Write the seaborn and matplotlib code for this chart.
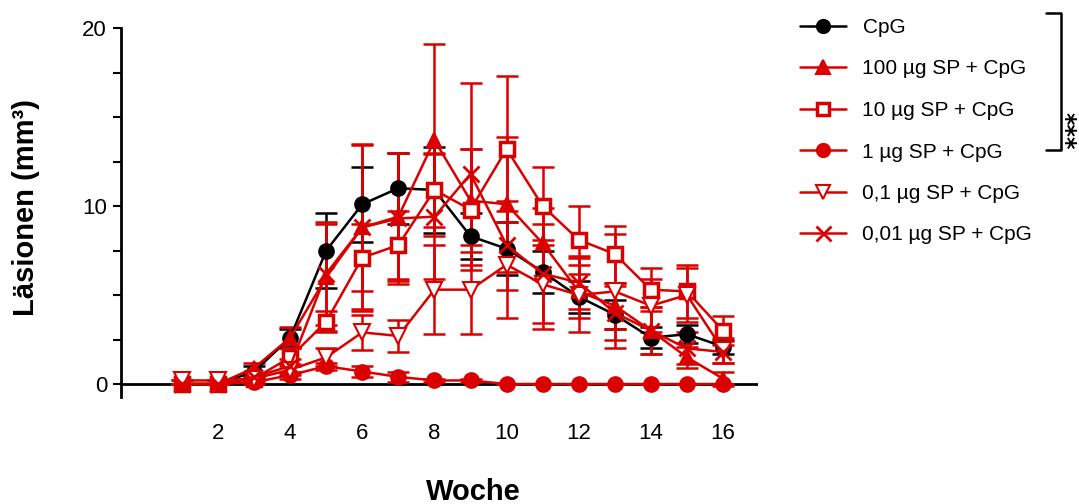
import matplotlib
matplotlib.use("Agg")
import matplotlib.pyplot as plt
import seaborn as sns
from matplotlib.lines import Line2D
from matplotlib.ticker import MultipleLocator

sns.set_style("ticks")
plt.rcParams['font.family'] = ['Liberation Sans', 'DejaVu Sans']
plt.rcParams['text.color'] = 'black'
plt.rcParams['axes.labelcolor'] = 'black'
plt.rcParams['xtick.color'] = 'black'
plt.rcParams['ytick.color'] = 'black'

# Wochen und Mittelwerte / SEM je Gruppe
weeks = list(range(1, 17))

cpg = [0, 0, 0.7, 2.6, 7.5, 10.1, 11.0, 10.9, 8.3, 7.6, 6.3, 4.9, 3.9, 2.6, 2.8, 2.1]
cpg_sem = [0, 0, 0.3, 0.5, 2.1, 2.1, 2.0, 2.4, 1.3, 1.5, 1.2, 0.9, 0.8, 0.6, 0.5, 0.4]

sp100 = [0, 0, 0.9, 2.6, 6.0, 8.8, 9.4, 13.7, 10.3, 10.1, 7.9, 5.2, 4.4, 3.0, 1.5, 0.3]
sp100_sem = [0, 0, 0.3, 0.6, 3.0, 4.6, 3.6, 5.4, 2.9, 3.8, 2.0, 1.5, 1.3, 1.3, 0.6, 0.4]

sp10 = [0, 0, 0.3, 1.5, 3.5, 7.1, 7.8, 10.9, 9.8, 13.2, 10.0, 8.1, 7.3, 5.3, 5.2, 3.0]
sp10_sem = [0, 0, 0.2, 0.5, 0.6, 1.9, 1.9, 2.1, 3.4, 4.1, 2.2, 1.9, 1.6, 1.2, 1.5, 0.8]

sp1 = [0, 0, 0.1, 0.5, 1.0, 0.7, 0.4, 0.2, 0.2, 0, 0, 0, 0, 0, 0, 0]
sp1_sem = [0, 0, 0.1, 0.2, 0.2, 0.3, 0.3, 0.1, 0.1, 0, 0, 0, 0, 0, 0, 0]

sp01 = [0.2, 0.2, 0.3, 0.8, 1.5, 2.9, 2.7, 5.3, 5.3, 6.7, 5.6, 5.0, 5.2, 4.4, 5.0, 1.9]
sp01_sem = [0, 0, 0.1, 0.3, 0.5, 1.0, 0.9, 2.5, 2.5, 3.0, 2.5, 2.1, 3.2, 1.5, 1.5, 0.7]

sp001 = [0, 0, 0.4, 1.0, 6.2, 8.8, 9.3, 9.4, 11.8, 7.8, 6.2, 5.7, 4.0, 3.0, 2.0, 1.8]
sp001_sem = [0, 0, 0.2, 0.4, 2.9, 4.7, 3.7, 3.5, 5.1, 2.5, 2.8, 1.5, 1.5, 1.3, 0.9, 0.6]

labels = ["CpG", "100 µg SP + CpG", "10 µg SP + CpG", "1 µg SP + CpG",
          "0,1 µg SP + CpG", "0,01 µg SP + CpG"]

RED = "#DA0000"
series = [
    (cpg, cpg_sem, "black", "o", "black", 10.5, 1.5),
    (sp100, sp100_sem, RED, "^", RED, 10.5, 1.5),
    (sp10, sp10_sem, RED, "s", "white", 9.5, 2.5),
    (sp1, sp1_sem, RED, "o", RED, 10.5, 1.5),
    (sp01, sp01_sem, RED, "v", "white", 11.5, 1.5),
    (sp001, sp001_sem, RED, "x", RED, 12, 2.0),
]

fig = plt.figure(figsize=(10.79, 5.04), dpi=100)
ax = fig.add_axes([121 / 1079, 1 - 397 / 504, 637 / 1079, 369 / 504])

for (vals, sem, col, mk, fc, ms, mew), lab in zip(series, labels):
    ax.errorbar(weeks, vals, yerr=sem, fmt="none", ecolor=col, elinewidth=1.8,
                capsize=8, capthick=1.8, clip_on=False, zorder=2)
    sns.lineplot(x=weeks, y=vals, ax=ax, color=col, marker=mk, markersize=ms,
                 markerfacecolor=fc, markeredgecolor=col, markeredgewidth=mew,
                 linewidth=1.8, label=lab, clip_on=False, zorder=3)

ax.axhline(0, color="black", linewidth=2, zorder=1)
ax.set_xlim(-0.69, 16.97)
ax.set_ylim(-0.73, 20)
ax.set_xticks(range(2, 17, 2))
ax.set_yticks([0, 10, 20])
ax.yaxis.set_minor_locator(MultipleLocator(2.5))
ax.tick_params(axis="x", length=0, pad=19, labelsize=16)
ax.tick_params(axis="y", which="both", length=6, width=1.5, pad=4, labelsize=16)
for s in ["top", "right", "bottom"]:
    ax.spines[s].set_visible(False)
ax.spines["left"].set_linewidth(2)
ax.spines["left"].set_color("black")

ax.set_xlabel("Woche", fontsize=21, fontweight="bold")
ax.xaxis.set_label_coords((473 - 121) / 637, (397 - 478) / 369)
ax.set_ylabel("Läsionen (mm³)", fontsize=21, fontweight="bold")
ax.yaxis.set_label_coords((40 - 121) / 637, (397 - 207) / 369)

leg = ax.legend(loc="upper left", bbox_to_anchor=(800 / 1079, 1 - 18 / 504),
                bbox_transform=fig.transFigure, frameon=False, fontsize=15,
                borderpad=0, borderaxespad=0, labelspacing=1.08,
                handlelength=2.2, handletextpad=0.8, markerscale=0.9)

# Signifikanz-Klammer
W, H = 1079, 504
br = [(1046 / W, 1 - 13 / H), (1061 / W, 1 - 13 / H),
      (1061 / W, 1 - 150 / H), (1046 / W, 1 - 150 / H)]
fig.add_artist(Line2D([p[0] for p in br], [p[1] for p in br],
                      color="black", linewidth=1.8, transform=fig.transFigure))
fig.text(1064 / W, 1 - 131 / H, "***", rotation=270, ha="center", va="center",
         fontsize=17, fontweight="bold", family="DejaVu Sans")

fig.savefig("out.png", dpi=100)
